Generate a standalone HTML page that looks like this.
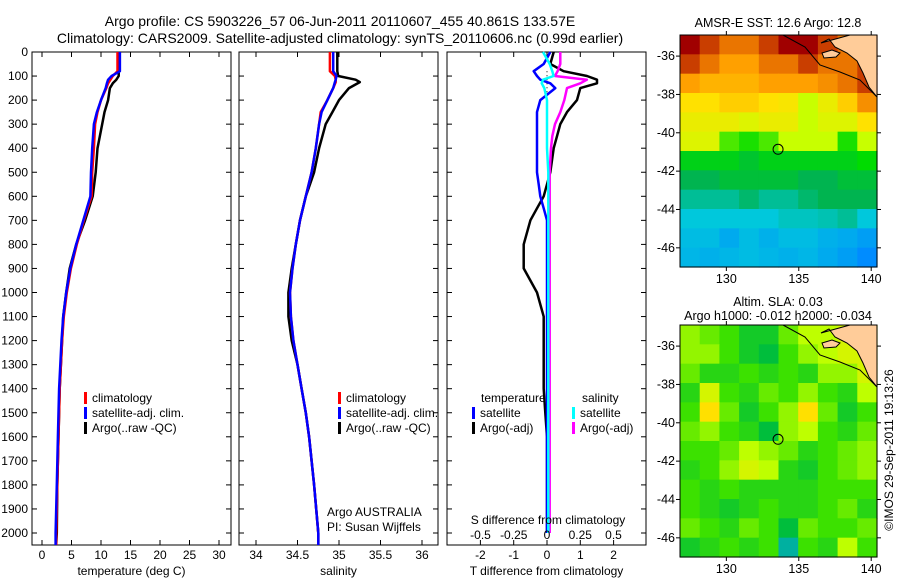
<!DOCTYPE html>
<html><head><meta charset="utf-8">
<style>
html,body{margin:0;padding:0;background:#fff}
svg{display:block;font-family:"Liberation Sans",sans-serif;font-size:12px}
.ttl{font-size:14px}
.mp text{font-size:12.5px}
</style></head><body>
<svg id="s" width="900" height="580" viewBox="0 0 900 580" xmlns="http://www.w3.org/2000/svg">
<rect width="900" height="580" fill="#fff"/>
<text class="ttl" x="340" y="26" text-anchor="middle">Argo profile: CS 5903226_57 06-Jun-2011 20110607_455 40.861S 133.57E</text>
<text class="ttl" x="340" y="43" text-anchor="middle">Climatology: CARS2009. Satellite-adjusted climatology: synTS_20110606.nc (0.99d earlier)</text>
<g id="g"></g>
</svg>
<script>
// ---- profile data ----
const tDepth=[0,80,100,115,130,150,200,250,300,400,500,600,700,800,900,1000,1100,1200,1400,1600,1800,2000,2050];
const tArgo=[13,13,13,12.6,12.0,11.5,11.2,10.6,10.2,9.4,9.1,8.6,7.3,5.8,4.7,4.1,3.6,3.4,3.0,2.8,2.6,2.5,2.4];
const tClim=[12.8,12.8,12.0,11.6,11.2,10.9,10.0,9.4,9.0,8.8,8.5,8.4,7.1,5.9,4.9,4.2,3.7,3.4,3.0,2.8,2.6,2.4,2.4];
const tSat=[13.2,13.2,11.8,11.2,11.0,10.8,10.0,9.3,8.8,8.5,8.3,8.2,7.0,5.8,4.8,4.1,3.6,3.3,2.9,2.7,2.5,2.3,2.3];
const sDepth=[0,80,100,115,125,150,200,250,300,400,500,600,700,800,900,1000,1100,1200,1300,1400,1500,1600,1800,2000,2050];
const sArgo=[34.98,34.98,34.99,35.2,35.25,35.12,35.0,34.92,34.84,34.76,34.7,34.6,34.53,34.48,34.43,34.39,34.39,34.43,34.5,34.55,34.6,34.64,34.7,34.75,34.75];
const sClim=[34.89,34.89,34.95,34.96,34.96,34.93,34.86,34.78,34.76,34.72,34.67,34.6,34.53,34.48,34.44,34.41,34.42,34.45,34.5,34.55,34.6,34.64,34.7,34.75,34.75];
const sSat=[34.93,34.93,34.97,34.96,34.95,34.93,34.86,34.79,34.76,34.72,34.67,34.6,34.53,34.48,34.44,34.41,34.42,34.45,34.5,34.55,34.6,34.64,34.7,34.75,34.75];
const dDepth=[0,50,80,100,115,130,150,200,250,300,350,400,500,550,600,650,700,800,900,1000,1100,1200,1400,1500,1600,2000];
const dTArgo=[0.2,0.1,0.5,1.2,1.5,1.5,1.0,0.9,0.6,0.4,0.3,0.2,0.1,0,-0.1,-0.3,-0.5,-0.7,-0.7,-0.3,-0.1,-0.1,-0.1,-0.05,0,0];
const dTSat=[0.1,-0.1,-0.4,-0.3,-0.2,0.1,0.25,-0.2,-0.3,-0.3,-0.3,-0.3,-0.3,-0.25,-0.2,-0.1,0,0,0,0,0,0,0,0,0,0];
const dSArgo=[0.1,0.1,0.08,0.06,0.3,0.25,0.15,0.13,0.1,0.06,0.04,0.03,0.02,0.02,0.02,0.02,0.02,0.02,0.02,0.02,0.02,0.02,0.02,0.02,0.02,0.02];
const dSSat=[-0.03,0.02,0.04,0.05,-0.03,-0.04,-0.02,0,0,0,0,0,0.01,0.01,0.01,0.01,0.01,0.01,0.01,0.01,0.01,0.01,0.01,0.01,0.01,0.01];
const depthTicks=[0,100,200,300,400,500,600,700,800,900,1000,1100,1200,1300,1400,1500,1600,1700,1800,1900,2000];
const tTicks=[0,5,10,15,20,25,30];
const sTicks=[34,34.5,35,35.5,36];
const dTTicks=[-2,-1,0,1,2];
const dSTicks=[-0.5,-0.25,0,0.25,0.5];
const dSTickLabels=["-0.5","-0.25","0","0.25","0.5"];
// ---- map data ----
const sst=[
[16.5,16,15.5,15.5,16,16.5,16.5,16,15.5,15.8],
[16,15.5,15,15,15.5,15.5,16,15.5,15.5,16],
[15,14.8,14.8,14.8,15,15,15,15.2,15.5,16],
[14.3,14.3,14.5,14.5,14.3,14.2,13.5,14,14.5,15.2],
[14,14,14,13.8,14,14,13.5,13.8,13.8,14.3],
[13.8,13.8,13,12.8,13,13.5,13.5,13.5,12.8,13.5],
[12.5,12.5,12.5,12.3,12.5,12.5,12.5,12.5,12.5,12.7],
[12,12,12.2,12.2,12.2,12.2,12,12,12.2,12.2],
[11.5,11.5,11.5,11.8,11.5,11.5,11.8,12,12,12],
[11,11,11,11,11,11.2,11.2,11.3,11.5,11],
[10.8,10.8,10.5,10.8,10.6,10.8,10.8,10.6,10.5,10.3],
[10.7,10.6,10.7,10.8,10.7,10.6,10.7,10.5,10.3,10]];
const sla=[
[.5,.4,.3,.1,.1,.4,.6,.6,.7,.7],
[.5,.5,.3,.1,0,.3,.5,.6,.7,.7],
[.4,.2,.2,.3,.2,.3,.2,.5,.5,.7],
[.2,.7,.3,.2,.4,.3,.5,.3,.2,.6],
[.3,.9,.4,.1,.3,.5,.9,.4,.1,.3],
[.4,.5,.3,.2,0,.5,.6,.3,.2,.4],
[.3,.3,.4,.6,.5,.4,.2,.3,.4,.5],
[.2,.3,.5,.7,.6,.2,.1,.3,.4,.5],
[.3,.2,.3,.2,.2,.2,.2,.3,.3,.3],
[.3,.2,.1,.2,.3,.2,.2,.3,.4,.2],
[.4,.3,.2,.4,.3,0,.4,.3,.3,.4],
[.1,.2,.3,.2,.3,-.2,.3,.2,.6,.3]];
const lonTicks=[130,135,140];
const latTicks=[-36,-38,-40,-42,-44,-46];
const argoLon=133.57, argoLat=-40.861;

const NS='http://www.w3.org/2000/svg';
const G=document.getElementById('g');
function el(tag,attrs,parent){const e=document.createElementNS(NS,tag);for(const k in attrs)e.setAttribute(k,attrs[k]);(parent||G).appendChild(e);return e;}
function txt(x,y,s,anchor,parent){const t=el('text',{x:x,y:y,'text-anchor':anchor||'start'},parent);t.textContent=s;return t;}
const yD=d=>52+d*0.2405;
const PB=545;
const xT=v=>42+v*5.9, xS=v=>256+(v-34)*83, xDT=v=>547+v*33.3, xDS=v=>547+v*133;

function panel(name,x0,x1,xf,ticks,labels,title,showY){
  const g=el('g',{});
  
  
  el('rect',{x:x0,y:52,width:x1-x0,height:PB-52,fill:'none',stroke:'#000','stroke-width':1},g);
  depthTicks.forEach(d=>{const y=yD(d);
    el('line',{x1:x0,x2:x0+5,y1:y,y2:y,stroke:'#000'},g);
    el('line',{x1:x1-5,x2:x1,y1:y,y2:y,stroke:'#000'},g);
    if(showY){const t=txt(x0-4,y+4,String(d),'end',g);}
  });
  ticks.forEach((v,i)=>{const x=xf(v);
    el('line',{x1:x,x2:x,y1:PB-5,y2:PB,stroke:'#000'},g);
    el('line',{x1:x,x2:x,y1:52,y2:57,stroke:'#000'},g);
    const t=txt(x,559,labels[i],'middle',g);
    
    
  });
  const tt=txt((x0+x1)/2,575,title,'middle',g);
  
  
}
function line(name,depths,vals,xf,color,w){
  const p=depths.map((d,i)=>xf(vals[i]).toFixed(1)+','+yD(d).toFixed(1)).join(' ');
  const l=el('polyline',{points:p,fill:'none',stroke:color,'stroke-width':w||2.5,'stroke-linejoin':'round'});
  
  
}
function legend(x,y,color,label){
  el('rect',{x:x,y:y-10,width:3,height:12,fill:color});
  const t=txt(x+8,y,label);
  
  
}

panel('temperature-panel',32,231,xT,tTicks,tTicks.map(String),'temperature (deg C)',true);
line('temperature-argo-line',tDepth,tArgo,xT,'#000',2.5);
line('temperature-clim-line',tDepth,tClim,xT,'#f00',2.5);
line('temperature-sat-line',tDepth,tSat,xT,'#00f',2.5);
legend(84,402,'#f00','climatology');legend(84,417,'#00f','satellite-adj. clim.');legend(84,432,'#000','Argo(..raw -QC)');

panel('salinity-panel',239,438,xS,sTicks,sTicks.map(String),'salinity',false);
line('salinity-argo-line',sDepth,sArgo,xS,'#000',2.5);
line('salinity-clim-line',sDepth,sClim,xS,'#f00',2.5);
line('salinity-sat-line',sDepth,sSat,xS,'#00f',2.5);
legend(338,402,'#f00','climatology');legend(338,417,'#00f','satellite-adj. clim.');legend(338,432,'#000','Argo(..raw -QC)');
txt(327,516,'Argo AUSTRALIA');txt(327,531,'PI: Susan Wijffels');

panel('difference-panel',447,646,xDT,dTTicks,dTTicks.map(String),'T difference from climatology',false);
el('line',{x1:547,x2:547,y1:yD(80),y2:yD(250),stroke:'#000','stroke-dasharray':'1,3'});
line('tdiff-argo-line',dDepth,dTArgo,xDT,'#000',2.5);
line('tdiff-sat-line',dDepth,dTSat,xDT,'#00f',2.5);
line('sdiff-argo-line',dDepth,dSArgo,xDS,'#f0f',2.5);
line('sdiff-sat-line',dDepth,dSSat,xDS,'#0ff',2.5);
txt(481,402,'temperature');txt(582,402,'salinity');
legend(472,417,'#00f','satellite');legend(572,417,'#0ff','satellite');
legend(472,432,'#000','Argo(-adj)');legend(572,432,'#f0f','Argo(-adj)');
txt(548,524,'S difference from climatology','middle');
dSTicks.forEach((v,i)=>{const t=txt(xDS(v),539,dSTickLabels[i],'middle');});

// ---- maps ----
function lerpStops(stops,v){
  if(v<=stops[0][0])return 'rgb('+stops[0][1].join(',')+')';
  for(let i=1;i<stops.length;i++){if(v<=stops[i][0]){const a=stops[i-1],b=stops[i],f=(v-a[0])/(b[0]-a[0]);
    return 'rgb('+a[1].map((c,k)=>Math.round(c+(b[1][k]-c)*f)).join(',')+')';}}
  return 'rgb('+stops[stops.length-1][1].join(',')+')';
}
const sstStops=[[10,[0,140,255]],[11,[0,200,220]],[12,[0,180,80]],[12.7,[0,220,0]],[13.5,[200,255,0]],[14.3,[255,225,0]],[15,[255,160,0]],[15.7,[225,100,0]],[16.5,[160,0,0]]];
const slaStops=[[-0.2,[0,176,160]],[0,[0,190,60]],[0.3,[60,225,0]],[0.6,[190,255,0]],[0.9,[255,224,0]],[1,[255,208,0]]];
function drawMap(name,top,grid,stops,title1,title2){
  const g=el('g',{class:'mp'});
  
  
  const L=680,R=877,T=top,B=top+232;
  const lonMin=126.8,lonMax=140.4,latTop=-34.9,latBot=-47.0;
  const xm=lo=>L+(lo-lonMin)/(lonMax-lonMin)*(R-L);
  const ym=la=>T+(latTop-la)/(latTop-latBot)*(B-T);
  const nr=grid.length,nc=grid[0].length,cw=(R-L)/nc,ch=(B-T)/nr;
  grid.forEach((row,r)=>row.forEach((v,c)=>{
    const cell=el('rect',{x:(L+c*cw).toFixed(2),y:(T+r*ch).toFixed(2),width:(cw+0.6).toFixed(2),height:(ch+0.6).toFixed(2),fill:lerpStops(stops,v)},g);
    
    
  }));
  el('path',{d:`M${L+170},${T} L${R},${T} L${R},${T+62} L${R-8},${T+52} L${R-14},${T+38} L${R-20},${T+26} L${R-30},${T+18} L${R-42},${T+12} L${R-48},${T+4} L${R-56},${T+8} Z`,fill:'#ffcc99',stroke:'#000','stroke-width':1},g);
  el('path',{d:`M${L+142},${T+18} L${L+152},${T+15} L${L+160},${T+18} L${L+156},${T+22} L${L+144},${T+23} Z`,fill:'#ffcc99',stroke:'#000','stroke-width':1},g);
  el('polyline',{points:`${L+103},${T} ${L+125},${T+12} ${L+140},${T+30} ${L+160},${T+37} ${L+180},${T+45} ${R},${T+62}`,fill:'none',stroke:'#000','stroke-width':1},g);
  el('rect',{x:L,y:T,width:R-L,height:B-T,fill:'none',stroke:'#000'},g);
  lonTicks.forEach(v=>{const x=xm(v);el('line',{x1:x,x2:x,y1:B,y2:B+4,stroke:'#000'},g);el('line',{x1:x,x2:x,y1:T-4,y2:T,stroke:'#000'},g);
    const t=txt(x,B+16,String(v),'middle',g);});
  latTicks.forEach(v=>{const y=ym(v);el('line',{x1:L-4,x2:L,y1:y,y2:y,stroke:'#000'},g);el('line',{x1:R,x2:R+4,y1:y,y2:y,stroke:'#000'},g);
    const t=txt(L-5,y+4,String(v),'end',g);});
  const m=el('circle',{cx:xm(argoLon),cy:ym(argoLat),r:5,fill:'none',stroke:'#000','stroke-width':1},g);
  
  
  if(title2){txt(778,T-19,title1,'middle',g);txt(778,T-5,title2,'middle',g);}
  else txt(778,T-8,title1,'middle',g);
}
drawMap('sst-map',35,sst,sstStops,'AMSR-E SST: 12.6 Argo: 12.8');
drawMap('sla-map',325,sla,slaStops,'Altim. SLA: 0.03','Argo h1000: -0.012 h2000: -0.034');
const c=txt(0,0,'©IMOS 29-Sep-2011 19:13:26','middle');
c.setAttribute('transform','translate(893,450) rotate(-90)');


</script>
</body></html>
